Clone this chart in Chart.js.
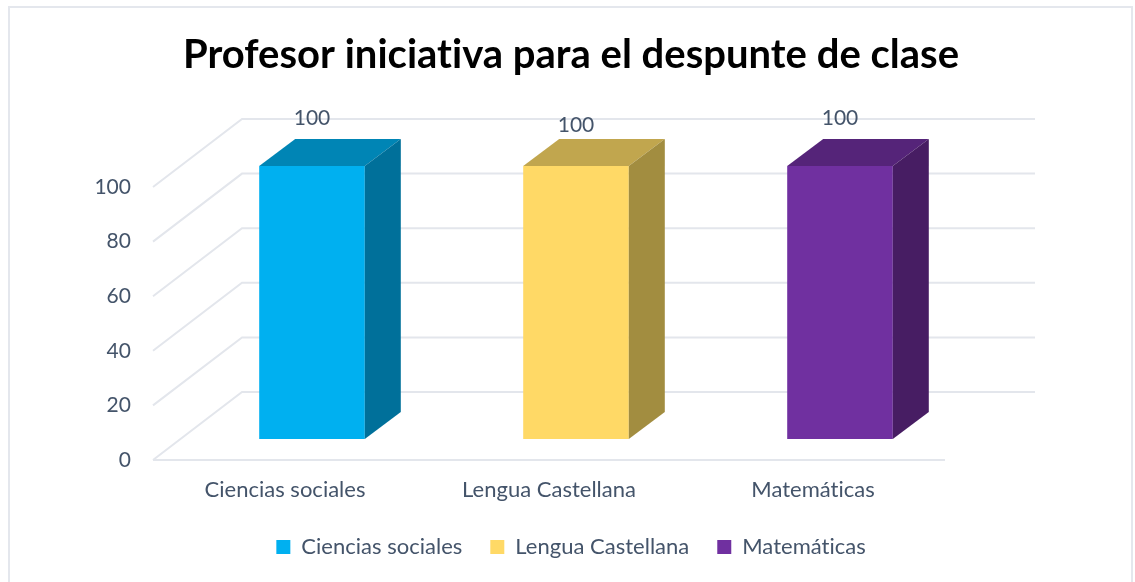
<!DOCTYPE html>
<html>
<head>
<meta charset="utf-8">
<script src="https://cdn.jsdelivr.net/npm/chart.js@4"></script>
<style>
    html, body { margin: 0; padding: 0; background: #fff; overflow: hidden; }
    #box { position: absolute; left: 8px; top: 6px; width: 1125px; height: 580px; box-sizing: border-box;
           border: 2px solid #e4e7ed; border-bottom: 0; }
    #myChart { position: absolute; left: 0; top: 0; }
</style>
</head>
<body>
<div id="box"></div>
<canvas id="myChart" width="1135" height="582"></canvas>
<script>
const categories = ['Ciencias sociales', 'Lengua Castellana', 'Matemáticas'];
const values = [100, 100, 100];
const frontColors = ['#00B0F0', '#FFD966', '#7030A0'];
const topColors = ['#0085B5', '#C1A64E', '#552479'];
const sideColors = ['#00709A', '#A28D40', '#471D63'];
const tickColor = '#44546A';
const gridColor = '#E3E6EC';

// the fake 3d box: floor depth, where the bars stand in it and how deep they are
const floor = { dx: 89, dy: -68 };
const barShift = { dx: 27, dy: -21 };
const barDepth = { dx: 36, dy: -27 };
const labelLift = [48, 41, 48];

const fake3d = {
    id: 'fake3d',
    beforeDraw(chart) {
        // no ti ligature in the title
        chart.ctx.letterSpacing = '0.01px';
    },
    beforeDatasetsDraw(chart) {
        const { ctx, chartArea, scales } = chart;
        ctx.save();
        ctx.strokeStyle = gridColor;
        ctx.lineWidth = 2;
        scales.y.ticks.forEach((tick) => {
            const y = scales.y.getPixelForValue(tick.value);
            ctx.beginPath();
            ctx.moveTo(chartArea.left, y);
            ctx.lineTo(chartArea.left + floor.dx, y + floor.dy);
            ctx.lineTo(chartArea.right + floor.dx + 1, y + floor.dy);
            ctx.stroke();
        });
        const y0 = scales.y.getPixelForValue(0);
        ctx.beginPath();
        ctx.moveTo(chartArea.left, y0);
        ctx.lineTo(chartArea.right, y0);
        ctx.stroke();
        ctx.restore();
    },
    beforeDatasetDraw(chart) {
        chart.ctx.save();
        chart.ctx.translate(barShift.dx, barShift.dy);
    },
    afterDatasetDraw(chart, args) {
        const ctx = chart.ctx;
        args.meta.data.forEach((bar, i) => {
            const left = bar.x - bar.width / 2;
            const right = bar.x + bar.width / 2;
            ctx.fillStyle = topColors[i];
            ctx.beginPath();
            ctx.moveTo(left, bar.y);
            ctx.lineTo(left + barDepth.dx, bar.y + barDepth.dy);
            ctx.lineTo(right + barDepth.dx, bar.y + barDepth.dy);
            ctx.lineTo(right, bar.y);
            ctx.closePath();
            ctx.fill();
            ctx.fillStyle = sideColors[i];
            ctx.beginPath();
            ctx.moveTo(right, bar.y);
            ctx.lineTo(right + barDepth.dx, bar.y + barDepth.dy);
            ctx.lineTo(right + barDepth.dx, bar.base + barDepth.dy);
            ctx.lineTo(right, bar.base);
            ctx.closePath();
            ctx.fill();
            ctx.fillStyle = tickColor;
            ctx.font = '21px Lato';
            ctx.textAlign = 'center';
            ctx.textBaseline = 'middle';
            ctx.fillText(values[i], bar.x, bar.y - labelLift[i]);
        });
        ctx.restore();
    }
};

const data = {
    labels: categories,
    datasets: [{
        data: values,
        backgroundColor: frontColors,
        barPercentage: 0.4,
        categoryPercentage: 1,
        clip: false
    }]
};

const config = {
    type: 'bar',
    data: data,
    options: {
        responsive: false,
        animation: false,
        layout: { padding: { left: 7, right: 0, top: 18, bottom: 14 } },
        scales: {
            x: {
                afterFit(scale) { scale.height = 48; },
                grid: { display: false },
                border: { display: false },
                ticks: { color: tickColor, font: { family: 'Lato', size: 22 }, padding: 9 }
            },
            y: {
                min: 0,
                max: 100,
                afterFit(scale) { scale.width = 146; },
                grid: { display: false },
                border: { display: false },
                ticks: { stepSize: 20, color: tickColor, font: { family: 'Lato', size: 21 }, padding: 14 }
            },
            // empty axis, only keeps the room on the right for the back wall
            y2: {
                position: 'right',
                afterFit(scale) { scale.width = 190; },
                grid: { display: false },
                border: { display: false },
                ticks: { display: false }
            }
        },
        plugins: {
            title: {
                display: true,
                text: 'Profesor iniciativa para el despunte de clase',
                color: '#000',
                font: { family: 'Lato', size: 40, weight: 'bold' },
                padding: { top: 13, bottom: 108 },
                align: 'center'
            },
            legend: {
                position: 'bottom',
                labels: {
                    boxWidth: 14,
                    boxHeight: 14,
                    padding: 28,
                    color: tickColor,
                    font: { family: 'Lato', size: 22 },
                    generateLabels() {
                        return categories.map((name, i) => ({
                            text: name,
                            fillStyle: frontColors[i],
                            strokeStyle: frontColors[i],
                            lineWidth: 0,
                            fontColor: tickColor,
                            index: i
                        }));
                    }
                }
            },
            tooltip: { enabled: false }
        }
    },
    plugins: [fake3d]
};

const myChart = new Chart(
    document.getElementById('myChart'),
    config
);
</script>
</body>
</html>
